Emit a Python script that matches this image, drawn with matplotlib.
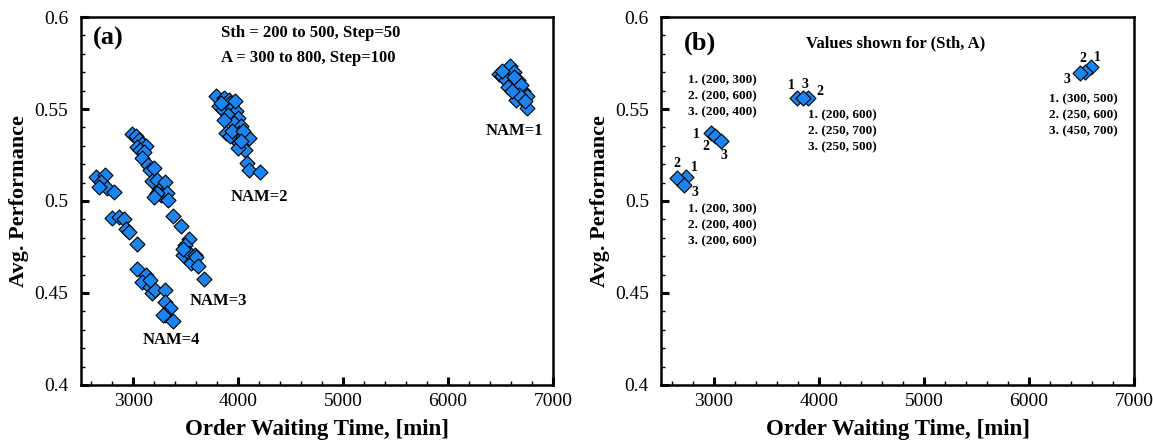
import matplotlib
matplotlib.use("Agg")
import matplotlib.pyplot as plt
from matplotlib.ticker import MultipleLocator

plt.rcParams["font.family"] = ["Liberation Serif", "DejaVu Serif"]

# panel (a): all (Sth, A) combinations, grouped by NAM
nam1_x = [6484, 6519, 6591, 6626, 6555, 6662, 6608, 6662, 6573, 6715,
          6697, 6751, 6644, 6751, 6519, 6626, 6697, 6680, 6733, 6608]
nam1_y = [0.5692, 0.5677, 0.5735, 0.5699, 0.5659, 0.5659, 0.5641, 0.5614, 0.5619, 0.5596,
          0.5559, 0.5568, 0.5550, 0.5505, 0.5704, 0.5674, 0.5632, 0.5578, 0.5541, 0.5596]

nam2_x = [3791, 3816, 3869, 3912, 3923, 3852, 3941, 3976, 3905, 3994,
          3958, 3887, 4030, 4012, 3923, 4047, 4083, 4012, 4065, 4101,
          4083, 4101, 4207, 3834, 3969, 3869, 3941, 4047, 3994, 4030]
nam2_y = [0.5568, 0.5514, 0.5559, 0.5550, 0.5532, 0.5496, 0.5505, 0.5487, 0.5469, 0.5451,
          0.5423, 0.5369, 0.5405, 0.5369, 0.5351, 0.5351, 0.5342, 0.5315, 0.5278, 0.5342,
          0.5206, 0.5170, 0.5155, 0.5532, 0.5541, 0.5442, 0.5378, 0.5378, 0.5287, 0.5324]

nam3_x = [2987, 3023, 3051, 3087, 3122, 3034, 3069, 3105, 3087, 3140,
          3158, 3194, 3176, 3229, 3247, 3300, 3265, 3318, 3336, 3379,
          3460, 3532, 3496, 3478, 3532, 3585, 3549, 3603, 3620, 3674,
          3478, 3229, 3201]
nam3_y = [0.5365, 0.5354, 0.5333, 0.5311, 0.5300, 0.5296, 0.5278, 0.5264, 0.5233, 0.5197,
          0.5170, 0.5179, 0.5106, 0.5115, 0.5061, 0.5101, 0.5034, 0.5043, 0.5006, 0.4916,
          0.4865, 0.4792, 0.4762, 0.4707, 0.4720, 0.4707, 0.4662, 0.4694, 0.4644, 0.4575,
          0.4738, 0.5043, 0.5024]

nam4_x = [2642, 2731, 2696, 2749, 2820, 2677,
          2795, 2866, 2909, 2927, 2962, 3034,
          3034, 3122, 3087, 3158, 3176, 3211, 3300, 3300, 3354, 3300, 3379, 3283, 3158]
nam4_y = [0.5128, 0.5139, 0.5101, 0.5070, 0.5051, 0.5078,
          0.4907, 0.4912, 0.4901, 0.4847, 0.4834, 0.4767,
          0.4629, 0.4598, 0.4562, 0.4531, 0.4498, 0.4516, 0.4516, 0.4453, 0.4417, 0.4380,
          0.4350, 0.4380, 0.4571]

# panel (b): three best settings per NAM
best_x = [2736, 2648, 2711, 2976, 3011, 3071, 3793, 3892, 3850, 6588, 6535, 6489]
best_y = [0.5131, 0.5123, 0.5085, 0.5370, 0.5355, 0.5328, 0.5562, 0.5560, 0.5560, 0.5726, 0.5702, 0.5693]
best_rank = ["1", "2", "3", "1", "2", "3", "1", "2", "3", "1", "2", "3"]
rank_offsets = [(6, 7), (0, 11), (8.5, -5), (-10.5, -1), (-6.5, -8), (1.5, -11),
                (-4, 9), (8.5, 5), (1, 9.5), (4.8, 7.5), (-1.5, 9.5), (-9.5, -4.5)]
best_blocks = ["1. (200, 300)\n2. (200, 400)\n3. (200, 600)",
               "1. (200, 300)\n2. (200, 600)\n3. (200, 400)",
               "1. (200, 600)\n2. (250, 700)\n3. (250, 500)",
               "1. (300, 500)\n2. (250, 600)\n3. (450, 700)"]
block_pos = [(2757, 0.4866), (2757, 0.5569), (3899, 0.5377), (6193, 0.5468)]

marker_color = "#1a85f0"

fig = plt.figure(figsize=(11.53, 4.42), dpi=100)
ax_a = fig.add_axes([0.070, 0.129, 0.4096, 0.8325])
ax_b = fig.add_axes([0.5737, 0.129, 0.4098, 0.8325])


def style_axis(ax):
    ax.set_xlim(2500, 7000)
    ax.set_ylim(0.4, 0.6)
    ax.xaxis.set_major_locator(MultipleLocator(1000))
    ax.xaxis.set_minor_locator(MultipleLocator(200))
    ax.yaxis.set_major_locator(MultipleLocator(0.05))
    ax.yaxis.set_minor_locator(MultipleLocator(0.01))
    ax.set_xticks([3000, 4000, 5000, 6000, 7000])
    ax.set_yticks([0.4, 0.45, 0.5, 0.55, 0.6])
    ax.set_yticklabels(["0.4", "0.45", "0.5", "0.55", "0.6"])
    ax.tick_params(which="both", direction="in", top=False, right=False, labelsize=14)
    ax.tick_params(which="major", length=6, width=2.2)
    ax.tick_params(which="minor", length=3, width=1)
    ax.tick_params(axis="y", pad=9)
    ax.tick_params(axis="x", pad=6)
    for sp in ax.spines.values():
        sp.set_linewidth(1.8)
    ax.set_xlabel("Order Waiting Time, [min]", fontsize=16.5, fontweight="bold", labelpad=6)
    ax.set_ylabel("Avg. Performance", fontsize=16, fontweight="bold", labelpad=4)


for xs, ys in [(nam4_x, nam4_y), (nam3_x, nam3_y), (nam2_x, nam2_y), (nam1_x, nam1_y)]:
    ax_a.scatter(xs, ys, marker="D", s=58, c=marker_color, edgecolors="black",
                 linewidths=0.8, zorder=3)
style_axis(ax_a)

ax_a.text(2617, 0.5886, "(a)", fontsize=19, fontweight="bold", va="center")
ax_a.text(3834, 0.5913, "Sth = 200 to 500, Step=50", fontsize=12, fontweight="bold", va="center")
ax_a.text(3834, 0.5777, "A = 300 to 800, Step=100", fontsize=12, fontweight="bold", va="center")
ax_a.text(6633, 0.5382, "NAM=1", fontsize=12, fontweight="bold", ha="center", va="center")
ax_a.text(4207, 0.5024, "NAM=2", fontsize=12, fontweight="bold", ha="center", va="center")
ax_a.text(3816, 0.4457, "NAM=3", fontsize=12, fontweight="bold", ha="center", va="center")
ax_a.text(3364, 0.4245, "NAM=4", fontsize=12, fontweight="bold", ha="center", va="center")

ax_b.scatter(best_x, best_y, marker="D", s=58, c=marker_color, edgecolors="black",
             linewidths=0.8, zorder=3)
style_axis(ax_b)

for x, y, r, off in zip(best_x, best_y, best_rank, rank_offsets):
    ax_b.annotate(r, (x, y), xytext=off, textcoords="offset points",
                  fontsize=10, fontweight="bold", ha="center", va="center")

for txt, (x, y) in zip(best_blocks, block_pos):
    ax_b.text(x, y, txt, fontsize=9.5, fontweight="bold", ha="left", va="center",
              linespacing=1.45)

ax_b.text(2711, 0.5858, "(b)", fontsize=19, fontweight="bold", va="center")
ax_b.text(4734, 0.5858, "Values shown for (Sth, A)", fontsize=12, fontweight="bold",
          ha="center", va="center")

fig.savefig("out.png", dpi=100)
